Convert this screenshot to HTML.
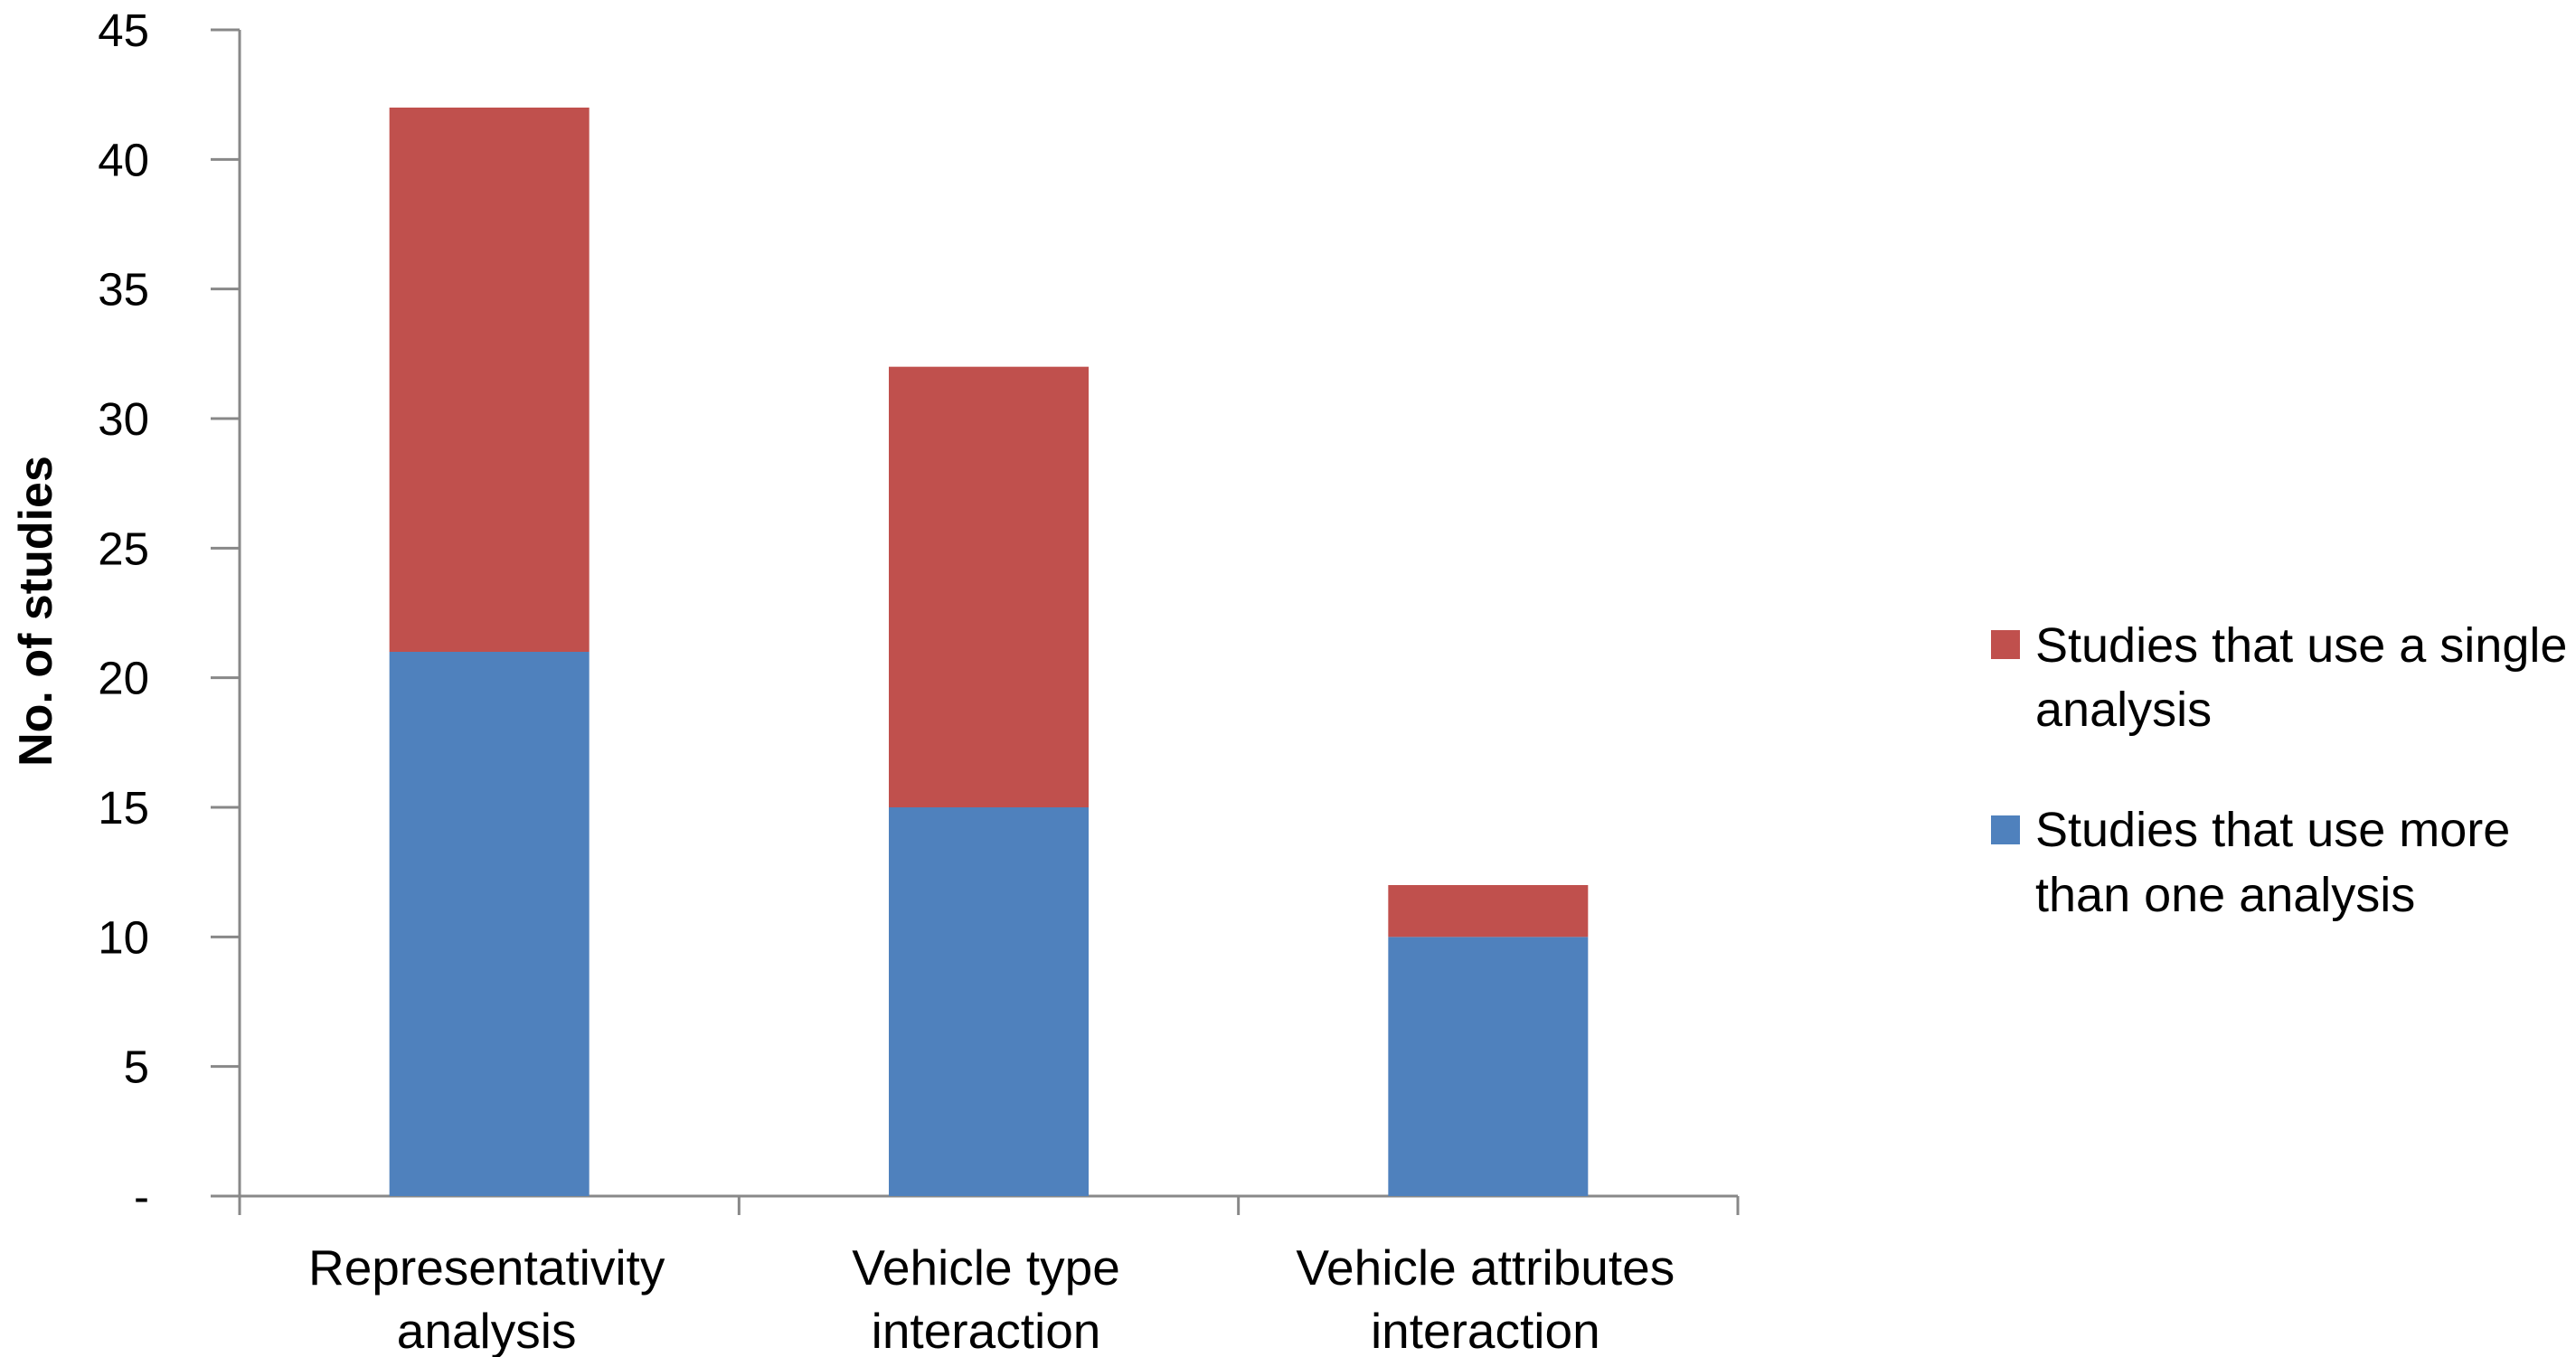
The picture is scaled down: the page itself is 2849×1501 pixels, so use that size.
<!DOCTYPE html>
<html><head><meta charset="utf-8"><style>
body{margin:0;background:#fff;}
svg{display:block;font-family:"Liberation Sans",sans-serif;}
</style></head><body>
<svg id="chart" width="2849" height="1501" viewBox="0 0 2849 1501">
<g id="axes"></g><g id="bars"></g>
<text transform="translate(57,676) rotate(-90)" text-anchor="middle" font-size="52" font-weight="bold" fill="#000">No. of studies</text>
<g>
<rect x="2202" y="697" width="32" height="32" fill="#c0504d"/>
<text x="2251" y="732" font-size="54" fill="#000">Studies that use a single</text>
<text x="2251" y="803" font-size="54" fill="#000">analysis</text>
<rect x="2202" y="902" width="32" height="32" fill="#4f81bd"/>
<text x="2251" y="936" font-size="54" fill="#000">Studies that use more</text>
<text x="2251" y="1008" font-size="54" fill="#000">than one analysis</text>
</g>
</svg>
<script>
const categories=[["Representativity","analysis"],["Vehicle type","interaction"],["Vehicle attributes","interaction"]];
const multipleValues=[21,15,10];
const singleValues=[21,17,2];
const yTicks=[0,5,10,15,20,25,30,35,40,45];
const yTickLabels=["-","5","10","15","20","25","30","35","40","45"];
const NS="http://www.w3.org/2000/svg";
const x0=265,x1=1922,yTop=33,yBot=1323,yMax=45;
const y=v=>yBot-(v/yMax)*(yBot-yTop);
const band=(x1-x0)/categories.length;
const barW=221;
function mk(tag,attrs,parent){const e=document.createElementNS(NS,tag);for(const k in attrs)e.setAttribute(k,attrs[k]);parent.appendChild(e);return e;}
const axes=document.getElementById('axes'),bars=document.getElementById('bars');
let l=mk('line',{x1:x0,y1:yTop,x2:x0,y2:yBot,stroke:'#888','stroke-width':3},axes);


l=mk('line',{x1:x0-32,y1:yBot,x2:x1,y2:yBot,stroke:'#888','stroke-width':3},axes);


yTicks.forEach((t,i)=>{
 const tk=mk('line',{x1:x0-32,y1:y(t),x2:x0,y2:y(t),stroke:'#888','stroke-width':3},axes);
 
 
 const tx=mk('text',{x:165,y:y(t)+18,'text-anchor':'end','font-size':51,fill:'#000'},axes);
 tx.textContent=yTickLabels[i];
 
 
});
for(let i=0;i<=categories.length;i++){
 const tk=mk('line',{x1:x0+band*i,y1:yBot,x2:x0+band*i,y2:yBot+21,stroke:'#888','stroke-width':3},axes);
 
 
}
categories.forEach((c,i)=>{
 const cx=x0+band*(i+0.5);
 const b=mk('rect',{x:cx-barW/2,y:y(multipleValues[i]),width:barW,height:yBot-y(multipleValues[i]),fill:'#4f81bd'},bars);
 
 
 const top=multipleValues[i]+singleValues[i];
 const r=mk('rect',{x:cx-barW/2,y:y(top),width:barW,height:y(multipleValues[i])-y(top),fill:'#c0504d'},bars);
 
 
 c.forEach((line,j)=>{
  const t=mk('text',{x:cx-3,y:1421+j*70,'text-anchor':'middle','font-size':55,fill:'#000'},axes);
  t.textContent=line;
  
  
 });
});
</script>
</body></html>
